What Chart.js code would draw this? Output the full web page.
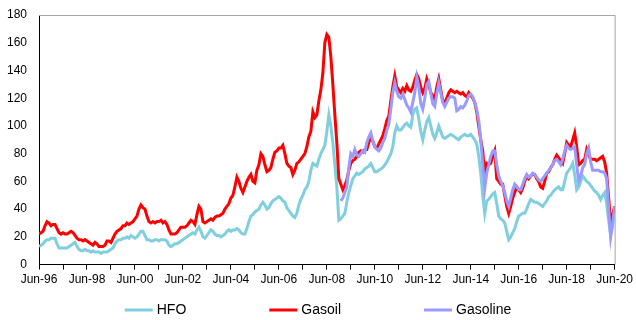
<!DOCTYPE html>
<html>
<head>
<meta charset="utf-8">
<script src="https://cdn.jsdelivr.net/npm/chart.js@4.4.1/dist/chart.umd.min.js"></script>
<style>
  body { margin: 0; background: #fff; }
  #wrap { width: 636px; height: 320px; }
</style>
</head>
<body>
<div id="wrap"><canvas id="myChart" width="636" height="320"></canvas></div>
<script>
// monthly, Jun-96 .. Jun-20
const startYear = 1996;
const seriesNames = ['HFO', 'Gasoil', 'Gasoline'];
const seriesColors = ['#7fcfdf', '#ff0000', '#9b9bff'];

const hfo = [
  13, 14, 15, 17, 18, 18, 19, 19, 19, 15, 12, 12,
  12, 12, 12, 13, 14, 15, 16, 13, 11, 10, 10, 11,
  10, 10, 9, 10, 9, 9, 9, 8, 9, 9, 9, 10,
  11, 12, 15, 17, 18, 18, 19, 19, 20, 19, 21, 20,
  19, 20, 22, 24, 24, 21, 18, 18, 17, 17, 18, 18,
  17, 18, 18, 18, 17, 14, 13, 14, 15, 15, 16, 17,
  18, 19, 20, 21, 22, 23, 22, 25, 27, 24, 20, 19,
  21, 23, 25, 24, 22, 21, 21, 20, 21, 22, 24, 25,
  24, 25, 25, 26, 25, 23, 22, 22, 26, 31, 35, 36,
  38, 39, 40, 43, 45, 43, 40, 41, 44, 46, 47, 48,
  49, 48, 46, 45, 41, 39, 37, 35, 34, 37, 43, 47,
  50, 54, 56, 60, 68, 73, 72, 71, 76, 80, 83, 86,
  96, 108, 100, 88, 72, 56, 32, 33, 35, 37, 45, 52,
  57, 62, 64, 66, 65, 66, 67, 69, 70, 71, 73, 70,
  67, 67, 68, 69, 70, 72, 74, 77, 80, 85, 95, 100,
  97, 97, 99, 101, 102, 100, 99, 108, 112, 113, 105, 96,
  90, 97, 103, 106, 100, 94, 91, 95, 100, 96, 92, 91,
  92, 93, 94, 93, 92, 91, 90, 92, 93, 94, 93, 93,
  94, 92, 90, 87, 78, 66, 50, 37, 46, 47, 49, 51,
  52, 44, 35, 33, 32, 30, 24, 18, 20, 23, 26, 31,
  35, 36, 37, 37, 40, 44, 47, 46, 45, 45, 44, 43,
  42, 44, 46, 49, 50, 52, 54, 55, 56, 54, 54, 60,
  66, 68, 70, 73, 65, 54, 56, 60, 64, 62, 60, 59,
  57, 55, 53, 52, 50, 47, 50, 52, 44, 32, 21, 28,
  35
];

const gasoil = [
  22, 23, 24, 28, 31, 30, 28, 29, 29, 26, 23, 22,
  23, 22, 22, 23, 24, 23, 21, 19, 18, 18, 17, 18,
  17, 16, 15, 14, 16, 15, 13, 13, 13, 14, 17, 17,
  16, 19, 22, 24, 25, 26, 28, 28, 30, 29, 30, 31,
  33, 35, 40, 43, 41, 40, 35, 31, 30, 31, 30, 31,
  31, 32, 30, 31, 29, 25, 22, 22, 22, 23, 25, 27,
  27, 27, 28, 30, 32, 31, 29, 36, 42, 40, 31, 30,
  31, 32, 33, 32, 34, 35, 35, 36, 37, 40, 42, 44,
  48, 50, 56, 63, 60, 55, 52, 56, 60, 63, 65, 60,
  59, 68, 72, 80, 78, 72, 67, 68, 70, 76, 81, 82,
  84, 84, 86, 80, 73, 71, 70, 65, 68, 73, 74, 76,
  78, 80, 85, 92, 96, 110, 106, 108, 118, 126, 138, 160,
  166, 164, 150, 130, 108, 88, 62, 58, 54, 57, 61, 68,
  73, 75, 76, 78, 81, 82, 81, 83, 83, 88, 92, 89,
  85, 84, 87, 90, 93, 98, 104, 107, 118, 128, 136, 128,
  126, 124, 127, 125, 129, 126, 125, 128, 133, 137, 134, 128,
  124, 127, 134, 130, 124, 122, 119, 128, 134, 126, 118, 117,
  120, 124, 126, 125, 124, 125, 124, 123, 124, 122, 121, 124,
  122, 120, 117, 110, 100, 90, 82, 64, 73, 72, 73, 78,
  82, 62, 60, 58, 58, 50, 42, 37, 42, 48, 52, 56,
  54, 52, 55, 60, 64, 62, 64, 65, 65, 62, 60, 56,
  55, 60, 66, 67, 70, 72, 76, 79, 77, 75, 73, 80,
  88, 86, 85, 90, 95, 85, 72, 73, 75, 76, 83, 79,
  76, 76, 76, 75, 76, 77, 78, 74, 66, 48, 30, 36,
  42
];

// gasoline series starts Jan-09 (month 151)
const gasolineStart = 151;
const gasoline = [
  46, 48, 52, 56, 70,
  80, 78, 83, 79, 78, 80, 82, 81, 88, 92, 95, 89,
  85, 83, 82, 84, 88, 91, 97, 101, 112, 124, 131, 125,
  121, 120, 123, 119, 115, 113, 110, 117, 124, 135, 128, 116,
  112, 120, 130, 132, 124, 116, 114, 123, 131, 124, 117, 114,
  117, 120, 121, 121, 120, 111, 112, 114, 113, 115, 118, 122,
  123, 121, 117, 112, 104, 90, 72, 55, 66, 72, 78, 82,
  82, 72, 64, 60, 57, 52, 46, 42, 48, 54, 58, 56,
  54, 54, 58, 62, 65, 63, 64, 66, 65, 63, 61, 60,
  62, 64, 66, 68, 70, 72, 75, 76, 74, 72, 76, 82,
  86, 84, 83, 84, 85, 72, 60, 64, 70, 72, 80, 84,
  74, 68, 68, 68, 68, 67, 67, 66, 62, 40, 20, 30,
  42
];

const yTicks = { min: 0, max: 180, step: 20 };

function toPoints(arr, offset) {
  return arr.map((v, i) => ({ x: i + offset, y: v }));
}

function monthLabel(m) {
  const yr = (startYear + m / 12) % 100;
  return 'Jun-' + String(yr).padStart(2, '0');
}

const seriesData = [toPoints(hfo, 0), toPoints(gasoil, 0), toPoints(gasoline, gasolineStart)];
const drawOrder = [2, 1, 0];

const datasets = seriesNames.map((name, i) => ({
  label: name,
  data: seriesData[i],
  borderColor: seriesColors[i],
  backgroundColor: seriesColors[i],
  borderWidth: 3,
  pointRadius: 0,
  tension: 0,
  order: drawOrder[i]
}));

// grey frame on top and right of the plot
const framePlugin = {
  id: 'frame',
  beforeDatasetsDraw(chart) {
    const a = chart.chartArea;
    const ctx = chart.ctx;
    ctx.save();
    ctx.strokeStyle = '#a6a6a6';
    ctx.lineWidth = 1;
    ctx.beginPath();
    ctx.moveTo(a.left, a.top + 0.5);
    ctx.lineTo(a.right + 0.5, a.top + 0.5);
    ctx.lineTo(a.right + 0.5, a.bottom);
    ctx.stroke();
    ctx.restore();
  }
};

// legend row with wide gaps, like the original
const legendPlugin = {
  id: 'wideLegend',
  afterDraw(chart) {
    const ctx = chart.ctx;
    ctx.save();
    ctx.font = '14px "Liberation Sans", Arial, sans-serif';
    ctx.textBaseline = 'middle';
    const lineW = 28, gapText = 4, gapItem = 83;
    const widths = seriesNames.map(n => lineW + gapText + ctx.measureText(n).width);
    const total = widths.reduce((s, w) => s + w, 0) + gapItem * (widths.length - 1);
    let x = (chart.width - total) / 2;
    const y = 310;
    seriesNames.forEach((n, i) => {
      ctx.strokeStyle = seriesColors[i];
      ctx.lineWidth = 3;
      ctx.beginPath();
      ctx.moveTo(x, y);
      ctx.lineTo(x + lineW, y);
      ctx.stroke();
      ctx.fillStyle = '#000';
      ctx.fillText(n, x + lineW + gapText, y);
      x += widths[i] + gapItem;
    });
    ctx.restore();
  }
};

const tickFont = { family: '"Liberation Sans", Arial, sans-serif', size: 12 };

const config = {
  type: 'line',
  data: { datasets: datasets },
  options: {
    responsive: false,
    animation: false,
    layout: { padding: { left: 7, top: 15, right: 20, bottom: 30 } },
    plugins: {
      legend: { display: false },
      tooltip: { enabled: false }
    },
    scales: {
      x: {
        type: 'linear',
        min: 0,
        max: 288,
        ticks: {
          stepSize: 12,
          autoSkip: false,
          maxRotation: 0,
          padding: 3,
          color: '#000',
          font: tickFont,
          callback: v => (v % 24 === 0 ? monthLabel(v) : '')
        },
        grid: { drawOnChartArea: false, drawTicks: true, tickLength: 5, color: '#000' },
        border: { color: '#000', width: 1 }
      },
      y: {
        min: yTicks.min,
        max: yTicks.max,
        ticks: { stepSize: yTicks.step, padding: 0, color: '#000', font: tickFont },
        grid: { drawOnChartArea: false, drawTicks: true, tickLength: 12, color: 'rgba(0,0,0,0)' },
        border: { color: '#000', width: 1 }
      }
    }
  },
  plugins: [framePlugin, legendPlugin]
};

const myChart = new Chart(document.getElementById('myChart'), config);
</script>
</body>
</html>
